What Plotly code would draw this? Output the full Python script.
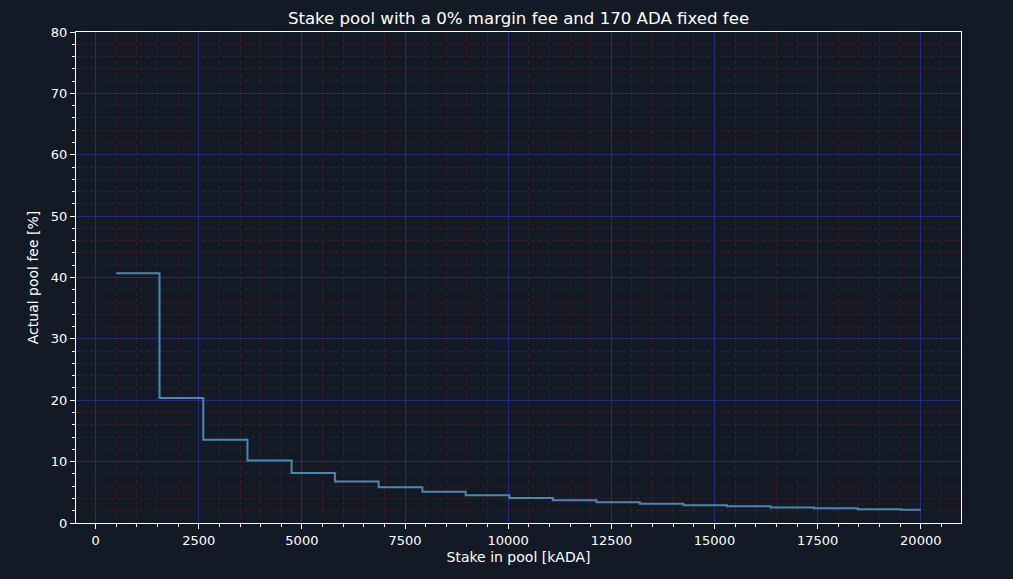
import plotly.graph_objects as go

# stake in pool (kADA) where the fee steps down, and the fee level from there on
stake = [500, 1550, 2610, 3680, 4750, 5800, 6860, 7920, 8970, 10030, 11080,
         12140, 13190, 14250, 15300, 16360, 17410, 18470, 19530, 20000]
fee = [40.7, 20.35, 13.57, 10.18, 8.14, 6.78, 5.81, 5.09, 4.52, 4.07, 3.70,
       3.39, 3.13, 2.91, 2.71, 2.54, 2.39, 2.26, 2.14, 2.14]

bg = '#141a25'
font = 'DejaVu Sans'

fig = go.Figure()
fig.add_trace(go.Scatter(x=stake, y=fee, mode='lines', line_shape='hv',
                         line=dict(color='#4a88b0', width=2)))

axis_common = dict(
    showline=True, linecolor='#ffffff', linewidth=1, mirror=True,
    ticks='outside', ticklen=5, tickcolor='#ffffff', tickwidth=1,
    showgrid=True, gridcolor='#282c78', gridwidth=1, zeroline=False,
    tickformat='d',
    tickfont=dict(family=font, size=13, color='#ffffff'),
)
minor_common = dict(ticks='outside', ticklen=3, tickcolor='#ffffff',
                    showgrid=True, gridcolor='#3a1e2b', griddash='4px,3px', gridwidth=1)

fig.update_xaxes(
    range=[-475, 20975], tick0=0, dtick=2500,
    title=dict(text='Stake in pool [kADA]', font=dict(family=font, size=14, color='#ffffff'), standoff=5),
    minor=dict(dtick=500, tick0=0, **minor_common),
    **axis_common,
)
fig.update_yaxes(
    range=[0, 80], tick0=0, dtick=10,
    title=dict(text='Actual pool fee [%]', font=dict(family=font, size=14, color='#ffffff'), standoff=8),
    minor=dict(dtick=2, tick0=0, **minor_common),
    **axis_common,
)

fig.update_layout(
    width=1013, height=579,
    paper_bgcolor=bg, plot_bgcolor=bg,
    margin=dict(l=76, r=52, t=32, b=56),
    showlegend=False,
    title=dict(text='Stake pool with a 0% margin fee and 170 ADA fixed fee',
               x=(76 + 961) / 2 / 1013, xanchor='center', y=1 - 18 / 579, yanchor='middle',
               font=dict(family=font, size=16.6, color='#ffffff')),
)

fig.write_html('out.html', config={'displayModeBar': False},
               post_script="document.body.style.margin='0';document.body.style.background='%s';" % bg)
